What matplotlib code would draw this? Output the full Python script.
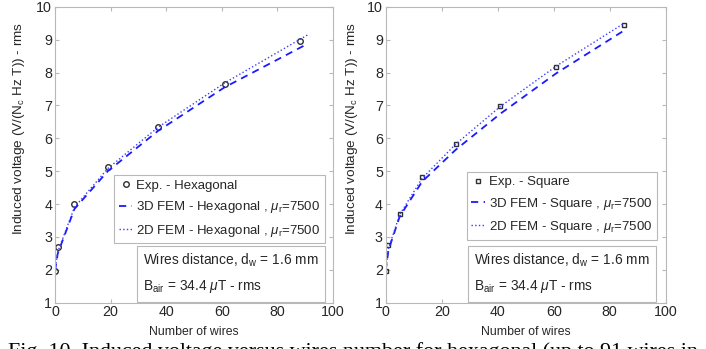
import matplotlib
matplotlib.use('Agg')
import matplotlib.pyplot as plt

plt.rcParams['font.family'] = ['Liberation Sans', 'DejaVu Sans']
plt.rcParams['mathtext.fontset'] = 'custom'
plt.rcParams['mathtext.rm'] = 'Liberation Sans'
plt.rcParams['mathtext.it'] = 'Liberation Sans:italic'

# hexagonal arrangement
hex_n = [0, 1, 7, 19, 37, 61, 88]
hex_exp = [1.97, 2.68, 4.0, 5.12, 6.34, 7.65, 8.97]
hex_fem_n = [0, 1, 7, 19, 37, 61, 91]
hex_3d = [1.97, 2.5, 3.85, 5.0, 6.22, 7.55, 8.88]
hex_2d = [1.97, 2.55, 3.9, 5.08, 6.33, 7.68, 9.15]

# square arrangement
sq_n = [0, 1, 5, 13, 25, 41, 61, 85]
sq_exp = [1.97, 2.76, 3.71, 4.82, 5.83, 6.97, 8.18, 9.45]
sq_3d = [1.97, 2.6, 3.62, 4.68, 5.65, 6.75, 7.98, 9.27]
sq_2d = [1.97, 2.65, 3.68, 4.78, 5.82, 6.97, 8.2, 9.49]

gray = '#262626'
edge = '#b8b8b8'
ylab = 'Induced voltage (V/(N$_\\mathregular{c}$ Hz T)) - rms'
box_txt = ('Wires distance, d$_\\mathregular{w}$ = 1.6 mm\n'
           'B$_\\mathregular{air}$ = 34.4 $\\mu$T - rms')

fig = plt.figure(figsize=(7.06, 3.49), dpi=100)
ax1 = fig.add_axes([0.0779, 0.1327, 0.3938, 0.848])
ax2 = fig.add_axes([0.5463, 0.1327, 0.3966, 0.848])

panels = [
    (ax1, hex_n, hex_exp, hex_fem_n, hex_3d, hex_2d, 'o', 'Hexagonal',
     (0.971, 0.431), 0.317, -0.10),
    (ax2, sq_n, sq_exp, sq_n, sq_3d, sq_2d, 's', 'Square',
     (0.968, 0.443), 0.315, -0.092),
]

for ax, n, exp, fn, d3, d2, mk, name, anchor, box_x, lab_x in panels:
    ax.plot(n, exp, linestyle='none', marker=mk, ms=4 if mk == 'o' else 3.5,
            mfc='none', mec='#303030', mew=1.0, label='Exp. - ' + name)
    ax.plot(fn, d3, '--', color='#1a1aff', lw=1.3, dashes=(4, 3),
            label='3D FEM - ' + name + ' , $\\mu_\\mathregular{r}$=7500')
    ax.plot(fn, d2, ':', color='#3b3bff', lw=1.0,
            label='2D FEM - ' + name + ' , $\\mu_\\mathregular{r}$=7500')
    ax.set_xlim(0, 100)
    ax.set_ylim(1, 10)
    ax.set_xticks(range(0, 101, 20))
    ax.set_yticks(range(1, 11))
    ax.tick_params(direction='in', top=True, right=True, length=3,
                   color=edge, labelcolor=gray, labelsize=10.3, pad=2)
    for s in ax.spines.values():
        s.set_color(edge)
        s.set_linewidth(0.8)
    ax.set_xlabel('Number of wires', fontsize=8.8, color=gray, labelpad=5)
    ax.set_ylabel(ylab, fontsize=9.7, color=gray)
    ax.yaxis.set_label_coords(lab_x, 0.587)
    leg = ax.legend(loc='upper right', bbox_to_anchor=anchor, fontsize=9.5,
                    handlelength=1.0, handletextpad=0.3, borderpad=0.35,
                    labelspacing=0.55, fancybox=False, framealpha=1,
                    edgecolor=edge, borderaxespad=0)
    leg.get_frame().set_linewidth(0.8)
    for t in leg.get_texts():
        t.set_color(gray)
    ax.text(box_x, 0.171, box_txt, transform=ax.transAxes, ha='left',
            va='top', multialignment='left', fontsize=9.9, color=gray,
            linespacing=1.75,
            bbox=dict(boxstyle='square,pad=0.45', fc='white', ec=edge, lw=0.8))

fig.text(0.011, 1 - 342 / 349,
         'Fig. 10. Induced voltage versus wires number for hexagonal (up to 91 wires in',
         family='Liberation Serif', fontsize=15.8, va='top', ha='left', color='black')

fig.savefig('out.png', dpi=100)
